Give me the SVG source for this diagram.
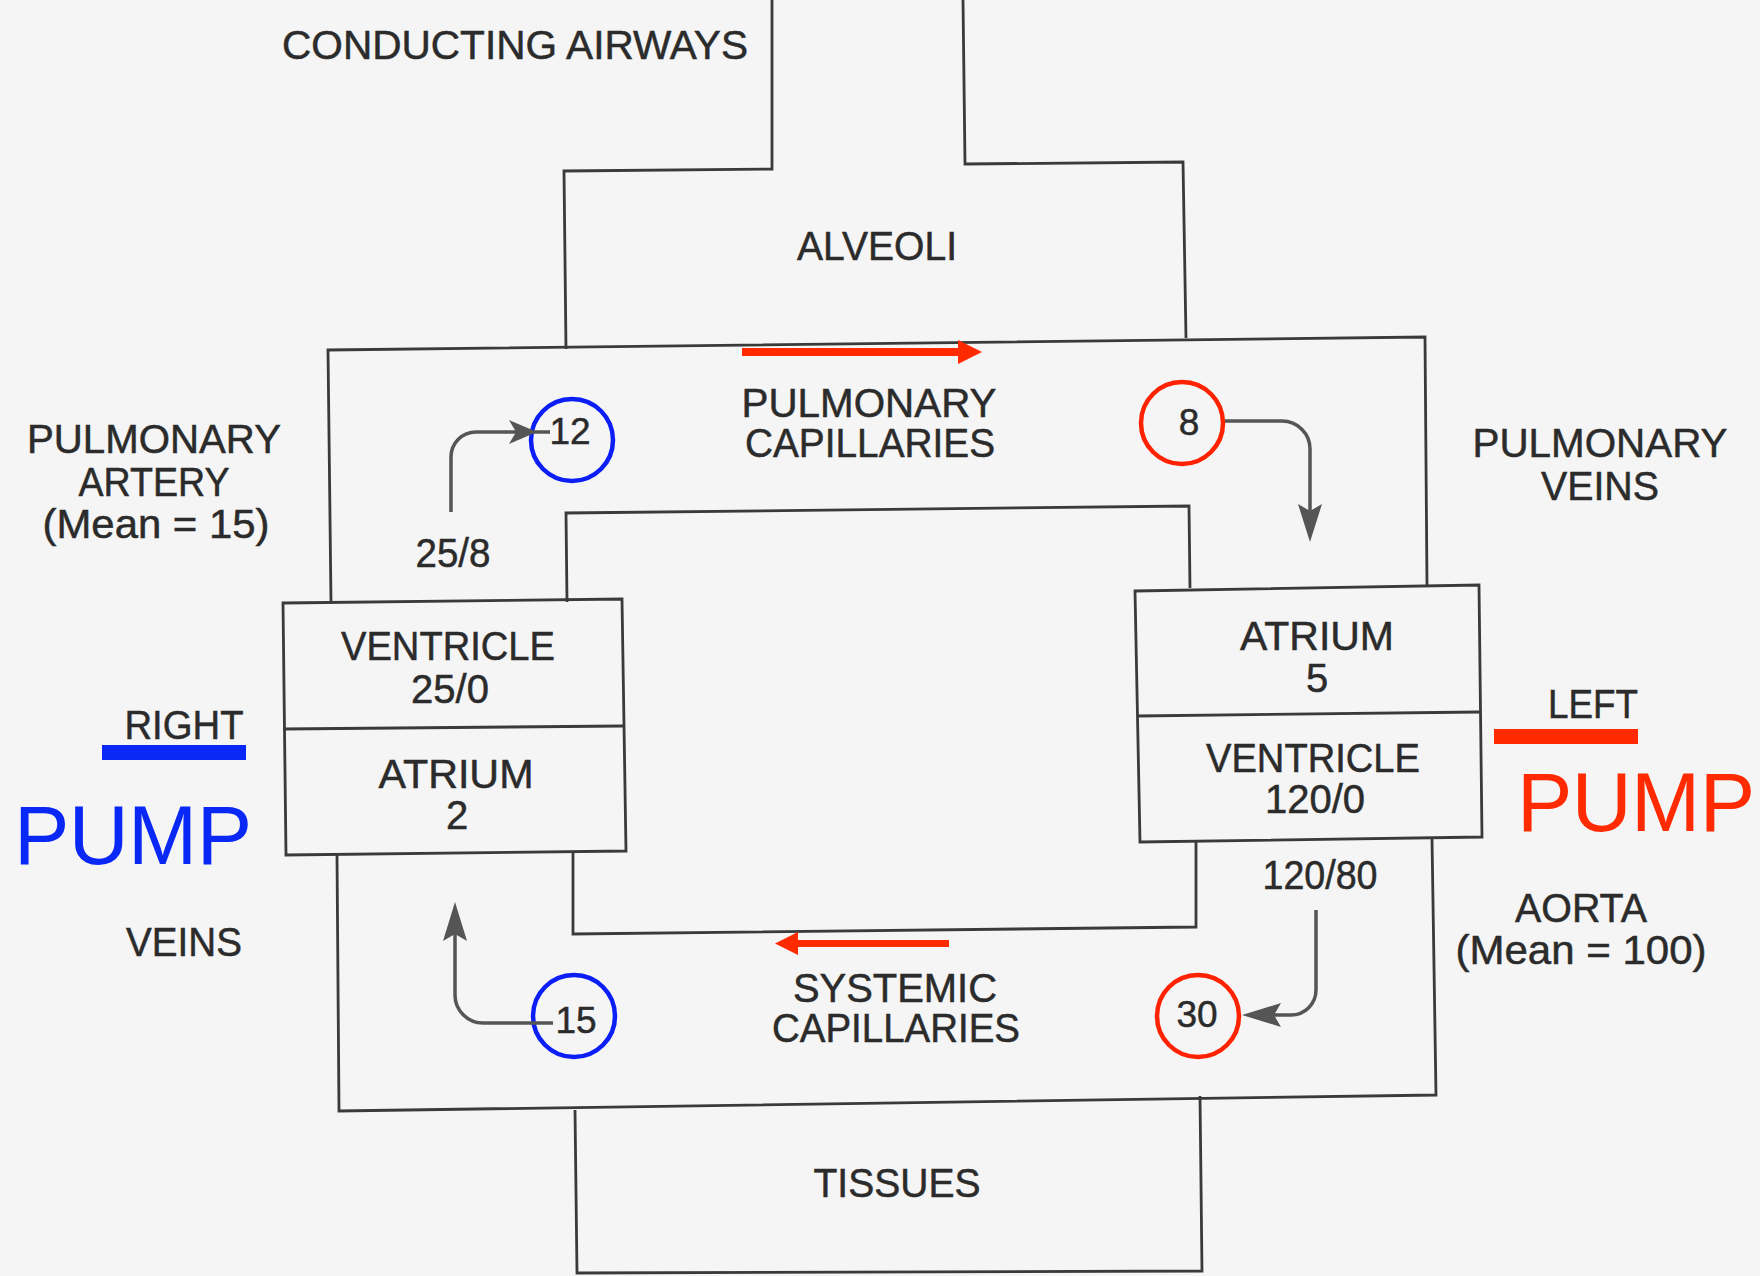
<svg xmlns="http://www.w3.org/2000/svg" width="1760" height="1276" viewBox="0 0 1760 1276">
<style>
.ln{fill:none;stroke:#3a3a3a;stroke-width:2.8;stroke-linejoin:miter}
.bx{fill:none;stroke:#3a3a3a;stroke-width:2.8}
.t{font-family:"Liberation Sans",Arial,Helvetica,sans-serif;font-size:40px;fill:#2b2b2b;stroke:#2b2b2b;stroke-width:0.5;text-anchor:middle}
.n{font-family:"Liberation Sans",Arial,Helvetica,sans-serif;font-size:37px;fill:#2b2b2b;stroke:#2b2b2b;stroke-width:0.5;text-anchor:middle}
.arr{fill:none;stroke:#555;stroke-width:3.5}
.ah{fill:#555}
.cb{fill:none;stroke:#0a1ef5;stroke-width:4.5}
.cr{fill:none;stroke:#ff2200;stroke-width:4.5}
.red{fill:#ff2a00}
.blue{fill:#0a28f5}
.pump{font-family:"Liberation Sans",Arial,Helvetica,sans-serif;font-size:83px}
</style>
<rect x="0" y="0" width="1760" height="1276" fill="#f5f5f5"/>

<g id="outline">
<path class="ln" d="M772,0 L772,169 L564,171 L566,349"/>
<path class="ln" d="M963,0 L965,164 L1183,162 L1186,338"/>
<path class="ln" d="M331,602 L328,350 L1425,337 L1427,586"/>
<path class="ln" d="M567,602 L566,513 L1189,506 L1190,588"/>
<path class="ln" d="M573,852 L573,934 L1196,927 L1196,840"/>
<path class="ln" d="M337,855 L339,1111 L1436,1095 L1432,838"/>
<path class="ln" d="M575,1110 L577,1273 L1202,1271 L1200,1096"/>
</g>

<g id="airways">
<text class="t" x="515" y="59" textLength="466" lengthAdjust="spacingAndGlyphs">CONDUCTING AIRWAYS</text>
</g>
<g id="alveoli">
<text class="t" x="877" y="260" textLength="160" lengthAdjust="spacingAndGlyphs">ALVEOLI</text>
</g>
<g id="pulmonary-capillaries">
<text class="t" x="869" y="417" textLength="255" lengthAdjust="spacingAndGlyphs">PULMONARY</text>
<text class="t" x="870" y="457" textLength="250" lengthAdjust="spacingAndGlyphs">CAPILLARIES</text>
</g>
<g id="pulmonary-artery">
<text class="t" x="154" y="453" textLength="254" lengthAdjust="spacingAndGlyphs">PULMONARY</text>
<text class="t" x="154" y="496" textLength="151" lengthAdjust="spacingAndGlyphs">ARTERY</text>
<text class="t" x="156" y="538" textLength="227" lengthAdjust="spacingAndGlyphs">(Mean = 15)</text>
</g>
<g id="pulmonary-veins">
<text class="t" x="1600" y="457" textLength="255" lengthAdjust="spacingAndGlyphs">PULMONARY</text>
<text class="t" x="1600" y="500" textLength="118" lengthAdjust="spacingAndGlyphs">VEINS</text>
</g>

<g id="right-heart">
<polygon class="bx" points="283,603 622,599 626,851 286,855"/>
<line class="bx" x1="283" y1="729" x2="623" y2="726"/>
<text class="t" x="448" y="660" textLength="214" lengthAdjust="spacingAndGlyphs">VENTRICLE</text>
<text class="t" x="450" y="703">25/0</text>
<text class="t" x="456" y="788" textLength="155" lengthAdjust="spacingAndGlyphs">ATRIUM</text>
<text class="t" x="457" y="829">2</text>
</g>
<g id="left-heart">
<polygon class="bx" points="1135,591 1479,585 1482,837 1140,842"/>
<line class="bx" x1="1137" y1="716" x2="1480" y2="712"/>
<text class="t" x="1317" y="650" textLength="154" lengthAdjust="spacingAndGlyphs">ATRIUM</text>
<text class="t" x="1317" y="692">5</text>
<text class="t" x="1313" y="772" textLength="214" lengthAdjust="spacingAndGlyphs">VENTRICLE</text>
<text class="t" x="1315" y="813">120/0</text>
</g>

<g id="right-pump-label">
<text class="t" x="184" y="739" textLength="119" lengthAdjust="spacingAndGlyphs">RIGHT</text>
<rect class="blue" x="102" y="745" width="144" height="15"/>
<text class="pump blue" x="14" y="864" textLength="238" lengthAdjust="spacing">PUMP</text>
</g>
<g id="left-pump-label">
<text class="t" x="1593" y="718" textLength="90" lengthAdjust="spacingAndGlyphs">LEFT</text>
<rect class="red" x="1494" y="729" width="144" height="15"/>
<text class="pump red" x="1517" y="831" textLength="238" lengthAdjust="spacing">PUMP</text>
</g>

<g id="veins">
<text class="t" x="184" y="956" textLength="116" lengthAdjust="spacingAndGlyphs">VEINS</text>
</g>
<g id="aorta">
<text class="t" x="1581" y="922" textLength="132" lengthAdjust="spacingAndGlyphs">AORTA</text>
<text class="t" x="1581" y="964" textLength="251" lengthAdjust="spacingAndGlyphs">(Mean = 100)</text>
</g>
<g id="systemic-capillaries">
<text class="t" x="895" y="1002" textLength="204" lengthAdjust="spacingAndGlyphs">SYSTEMIC</text>
<text class="t" x="896" y="1042" textLength="248" lengthAdjust="spacingAndGlyphs">CAPILLARIES</text>
</g>
<g id="tissues">
<text class="t" x="897" y="1197" textLength="167" lengthAdjust="spacingAndGlyphs">TISSUES</text>
</g>

<g id="pressure-25-8">
<text class="t" x="453" y="567" textLength="75" lengthAdjust="spacingAndGlyphs">25/8</text>
</g>
<g id="pressure-120-80">
<text class="t" x="1320" y="889" textLength="115" lengthAdjust="spacingAndGlyphs">120/80</text>
</g>
<g id="p12">
<circle class="cb" cx="572" cy="440" r="41"/>
<text class="n" x="570" y="444">12</text>
</g>
<g id="p8">
<circle class="cr" cx="1182" cy="423" r="41"/>
<text class="n" x="1189" y="435">8</text>
</g>
<g id="p15">
<circle class="cb" cx="574" cy="1016" r="41"/>
<text class="n" x="576" y="1033">15</text>
</g>
<g id="p30">
<circle class="cr" cx="1198" cy="1016" r="41"/>
<text class="n" x="1197" y="1027">30</text>
</g>

<g id="connectors">
<path class="arr" d="M451,512 L451,457 A25,25 0 0 1 476,432 L550,432"/>
<polygon class="ah" points="537,432 509,420 516,432 509,444"/>
<path class="arr" d="M1225,421 L1282,421 A28,28 0 0 1 1310,449 L1310,530"/>
<polygon class="ah" points="1310,542 1298,504 1310,511 1322,504"/>
<path class="arr" d="M553,1023 L483,1023 A28,28 0 0 1 455,995 L455,915"/>
<polygon class="ah" points="455,902 443,941 455,934 467,941"/>
<path class="arr" d="M1316,910 L1316,990 A25,25 0 0 1 1291,1015 L1255,1015"/>
<polygon class="ah" points="1242,1015 1281,1003 1274,1015 1281,1027"/>
<rect class="red" x="742" y="348" width="218" height="8"/>
<polygon class="red" points="958,340 982,352 958,364"/>
<rect class="red" x="796" y="940" width="153" height="7"/>
<polygon class="red" points="798,932 775,943.5 798,955"/>
</g>
</svg>
